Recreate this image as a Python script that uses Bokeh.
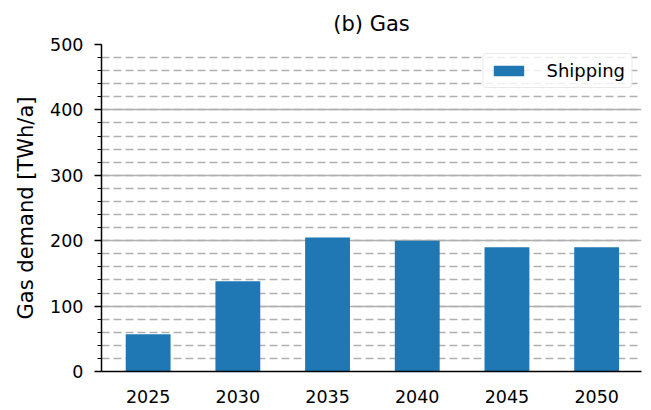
from bokeh.plotting import figure
from bokeh.models import Range1d, FixedTicker, Legend, LegendItem
from bokeh.embed import file_html
from bokeh.resources import INLINE

years = ["2025", "2030", "2035", "2040", "2045", "2050"]
shipping = [57, 138, 205, 200, 190, 190]
y_ticks = [0, 100, 200, 300, 400, 500]
y_minor = list(range(0, 501, 20))

xs = list(range(len(years)))

p = figure(width=645, height=408, output_backend="svg", toolbar_location=None,
           x_range=Range1d(-0.52, 5.5), y_range=Range1d(0, 500),
           min_border_left=101, min_border_right=4, min_border_top=44, min_border_bottom=37,
           title="(b) Gas")
p.title.align = "center"
p.title.text_font = "DejaVu Sans"
p.title.text_font_size = "21px"
p.title.text_font_style = "normal"
p.title.text_color = "#000000"
p.title.offset = 0
p.title.standoff = 17
p.outline_line_color = None

r = p.vbar(x=xs, top=shipping, width=0.5, color="#1f77b4", line_color=None)

p.xaxis.ticker = FixedTicker(ticks=xs)
p.xaxis.major_label_overrides = {i: y for i, y in enumerate(years)}
p.xaxis.major_tick_out = 0
p.xaxis.major_tick_in = 0
p.xaxis.minor_tick_out = 0
p.xaxis.minor_tick_in = 0
p.xaxis.major_label_standoff = 18
p.yaxis.ticker = FixedTicker(ticks=y_ticks, minor_ticks=y_minor)
p.yaxis.major_tick_out = 7
p.yaxis.major_tick_in = 0
p.yaxis.minor_tick_out = 4
p.yaxis.minor_tick_in = 0
p.yaxis.major_label_standoff = 11
p.yaxis.axis_label = "Gas demand [TWh/a]"
p.yaxis.axis_label_standoff = 9
for ax in (p.xaxis[0], p.yaxis[0]):
    ax.axis_line_width = 1.5
    ax.axis_line_color = "#000000"
    ax.major_tick_line_width = 1.5
    ax.minor_tick_line_width = 1.2
    ax.major_label_text_font = "DejaVu Sans"
    ax.major_label_text_font_size = "17.5px"
    ax.major_label_text_color = "#000000"
    ax.axis_label_text_font = "DejaVu Sans"
    ax.axis_label_text_font_size = "21px"
    ax.axis_label_text_font_style = "normal"
    ax.axis_label_text_color = "#000000"

p.xgrid.grid_line_color = None
p.ygrid.grid_line_color = "#b0b0b0"
p.ygrid.grid_line_width = 1.6
p.ygrid.minor_grid_line_color = "#b0b0b0"
p.ygrid.minor_grid_line_width = 1.6
p.ygrid.minor_grid_line_dash = "8 4"
p.ygrid.level = "underlay"

legend = Legend(items=[LegendItem(label="Shipping", renderers=[r])], location="top_right")
legend.margin = 9
legend.padding = 6
legend.glyph_width = 38
legend.glyph_height = 13
legend.label_height = 18
legend.label_standoff = 19
legend.label_text_font = "DejaVu Sans"
legend.label_text_font_size = "18px"
legend.label_text_color = "#000000"
legend.border_line_color = "#d5d5d5"
legend.border_line_width = 1.5
legend.background_fill_alpha = 0.8
if "border_radius" in legend.properties():
    legend.border_radius = 4
p.add_layout(legend)

open("out.html", "w").write(file_html(p, INLINE))
